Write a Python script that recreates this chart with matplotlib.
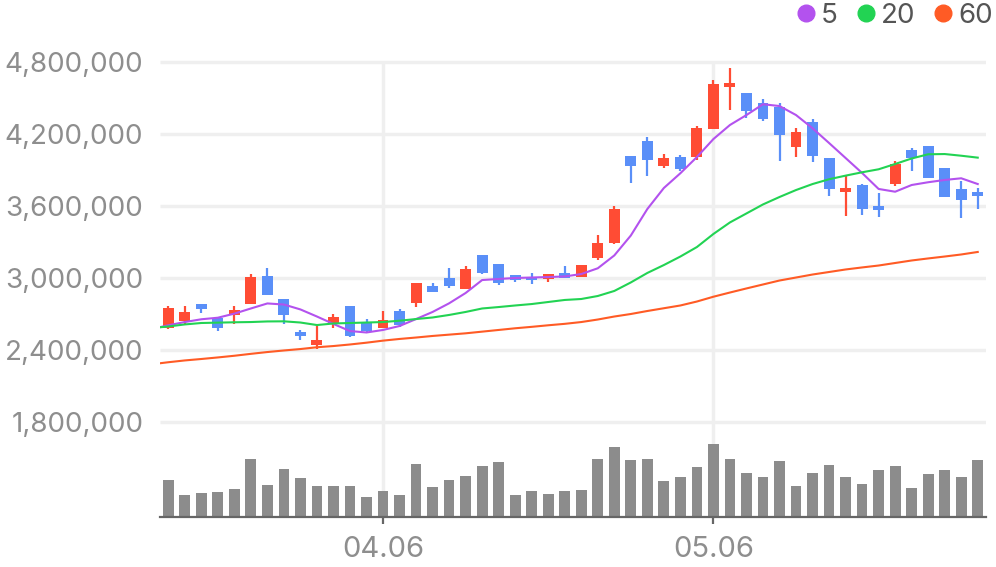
import numpy as np
import matplotlib
matplotlib.use('Agg')
import matplotlib.pyplot as plt
from matplotlib.lines import Line2D

plt.rcParams['font.family'] = ['Inter', 'DejaVu Sans']

# 일봉 데이터 (시가, 고가, 저가, 종가)
opens = [2580000, 2640000, 2785000, 2670000, 2695000, 2780000, 3015000, 2825000, 2550000, 2440000,
         2615000, 2765000, 2635000, 2585000, 2725000, 2790000, 2935000, 3000000, 2910000, 3190000,
         3115000, 3025000, 3010000, 2990000, 3040000, 3010000, 3170000, 3290000, 4015000, 4140000,
         3935000, 4010000, 4005000, 4245000, 4590000, 4540000, 4460000, 4425000, 4090000, 4300000,
         4000000, 3715000, 3775000, 3600000, 3785000, 4065000, 4100000, 3915000, 3740000, 3715000]
highs = [2765000, 2765000, 2785000, 2670000, 2765000, 3035000, 3085000, 2825000, 2565000, 2600000,
         2700000, 2765000, 2660000, 2725000, 2740000, 2960000, 2960000, 3085000, 3100000, 3190000,
         3115000, 3025000, 3040000, 3035000, 3100000, 3110000, 3360000, 3600000, 4015000, 4175000,
         4035000, 4025000, 4265000, 4650000, 4750000, 4540000, 4490000, 4460000, 4250000, 4325000,
         4000000, 3860000, 3785000, 3710000, 3975000, 4085000, 4100000, 3915000, 3810000, 3750000]
lows = [2575000, 2620000, 2710000, 2560000, 2620000, 2780000, 2860000, 2615000, 2480000, 2410000,
        2585000, 2505000, 2540000, 2585000, 2595000, 2760000, 2880000, 2920000, 2910000, 3030000,
        2945000, 2965000, 2950000, 2965000, 3000000, 3010000, 3150000, 3285000, 3795000, 3850000,
        3920000, 3895000, 3985000, 4245000, 4400000, 4335000, 4310000, 3975000, 4010000, 3965000,
        3685000, 3515000, 3525000, 3510000, 3765000, 3890000, 3835000, 3675000, 3500000, 3575000]
closes = [2750000, 2715000, 2740000, 2585000, 2730000, 3010000, 2860000, 2695000, 2520000, 2480000,
          2675000, 2520000, 2560000, 2650000, 2605000, 2955000, 2880000, 2935000, 3075000, 3045000,
          2960000, 2985000, 2985000, 3035000, 3000000, 3110000, 3290000, 3575000, 3935000, 3980000,
          4000000, 3910000, 4250000, 4615000, 4625000, 4390000, 4325000, 4190000, 4215000, 4015000,
          3740000, 3750000, 3575000, 3565000, 3950000, 4000000, 3835000, 3675000, 3650000, 3685000]
volumes = [37, 22, 24, 25, 28, 58, 32, 48, 39, 31, 31, 31, 20, 26, 22, 53, 30, 37, 41, 51,
           55, 22, 26, 23, 26, 27, 58, 70, 57, 58, 36, 40, 50, 73, 58, 44, 40, 56, 31, 44,
           52, 40, 33, 47, 51, 29, 43, 47, 40, 57]

# 이동평균선 (첫 값은 화면 왼쪽 밖의 전일 값)
ma5 = [2575000, 2606000, 2633000, 2656000, 2669000, 2703000, 2746000, 2788000, 2779000, 2738000,
       2679000, 2617000, 2558000, 2546000, 2567000, 2600000, 2658000, 2717000, 2789000, 2875000,
       2983000, 2992000, 3000000, 3004000, 3008000, 3013000, 3033000, 3081000, 3188000, 3354000,
       3575000, 3750000, 3873000, 4008000, 4158000, 4275000, 4358000, 4448000, 4433000, 4358000,
       4248000, 4125000, 4000000, 3875000, 3742000, 3719000, 3775000, 3798000, 3817000, 3831000, 3783000]
ma20 = [2583000, 2596000, 2613000, 2625000, 2628000, 2631000, 2633000, 2638000, 2639000, 2629000,
        2608000, 2621000, 2625000, 2629000, 2633000, 2644000, 2658000, 2671000, 2692000, 2717000,
        2746000, 2758000, 2771000, 2783000, 2800000, 2817000, 2825000, 2850000, 2892000, 2963000,
        3042000, 3108000, 3179000, 3258000, 3367000, 3463000, 3538000, 3613000, 3675000, 3733000,
        3783000, 3823000, 3853000, 3881000, 3906000, 3950000, 3996000, 4031000, 4033000, 4019000, 4003000]
ma60 = [2281000, 2298000, 2313000, 2325000, 2338000, 2352000, 2368000, 2383000, 2396000, 2408000,
        2423000, 2433000, 2446000, 2461000, 2478000, 2492000, 2504000, 2517000, 2528000, 2539000,
        2553000, 2567000, 2581000, 2593000, 2606000, 2618000, 2633000, 2654000, 2679000, 2700000,
        2725000, 2748000, 2771000, 2804000, 2844000, 2879000, 2913000, 2946000, 2979000, 3004000,
        3029000, 3050000, 3071000, 3088000, 3104000, 3125000, 3146000, 3163000, 3179000, 3196000, 3217000]

tick_idx = [13, 33]
tick_labels = ['04.06', '05.06']
price_ticks = [1800000, 2400000, 3000000, 3600000, 4200000, 4800000]

ma_labels = ['5', '20', '60']
ma_colors = ['#b352ee', '#22d353', '#ff5b25']
up_color = '#ff4c34'
down_color = '#5a8ff8'
grid_color = '#efefef'
text_color = '#8e8e8e'

o = np.array(opens)
h = np.array(highs)
l = np.array(lows)
c = np.array(closes)
x = np.arange(len(o))
x_ma = np.arange(-1, len(o))

fig = plt.figure(figsize=(9.96, 5.67), dpi=100)

# 가격 차트
ax = fig.add_axes([160 / 996, 50 / 567, 826 / 996, 461 / 567])
ax.set_xlim(-0.5, 49.5)
ax.set_ylim(1008333, 4850000)
for sp in ax.spines.values():
    sp.set_visible(False)

ax.hlines(price_ticks, -0.5, 49.5, color=grid_color, lw=2.5, zorder=0)
ax.vlines(tick_idx, 1008333, 4800000, color=grid_color, lw=2.5, zorder=0)

cols = [up_color if cc >= oo else down_color for oo, cc in zip(o, c)]
ax.vlines(x, l, h, color=cols, lw=1.6, zorder=2)
ax.bar(x, np.abs(c - o), bottom=np.minimum(o, c), width=0.66, color=cols, zorder=3)

for vals, col in zip([ma5, ma20, ma60], ma_colors):
    ax.plot(x_ma, vals, color=col, lw=1.5, zorder=4)

ax.set_xticks([])
ax.set_yticks(price_ticks)
ax.set_yticklabels([f'{v:,}' for v in price_ticks])
ax.tick_params(axis='y', length=0, pad=12, labelsize=20, labelcolor=text_color)

# 거래량
vax = fig.add_axes([160 / 996, 50 / 567, 826 / 996, 100 / 567])
vax.set_xlim(-0.5, 49.5)
vax.set_ylim(0, 100)
vax.patch.set_visible(False)
for name, sp in vax.spines.items():
    sp.set_visible(name == 'bottom')
vax.spines['bottom'].set_color('#666666')
vax.spines['bottom'].set_linewidth(1.6)
vax.bar(x, volumes, width=0.65, color='#8c8c8c', zorder=2)
vax.set_yticks([])
vax.set_xticks(tick_idx)
vax.set_xticklabels(tick_labels)
vax.tick_params(axis='x', length=5, width=1.6, color='#666666', pad=9,
                labelsize=21, labelcolor=text_color)

# 범례
handles = [Line2D([], [], marker='o', linestyle='', color=col, markersize=12) for col in ma_colors]
fig.legend(handles, ma_labels, loc='upper right', bbox_to_anchor=(1.0, 1.0), ncol=3,
           frameon=False, fontsize=20, labelcolor='#555555', handletextpad=0.05,
           columnspacing=0.5, handlelength=1.0, borderaxespad=0.0, borderpad=0.1)

fig.savefig('out.png', dpi=100)
